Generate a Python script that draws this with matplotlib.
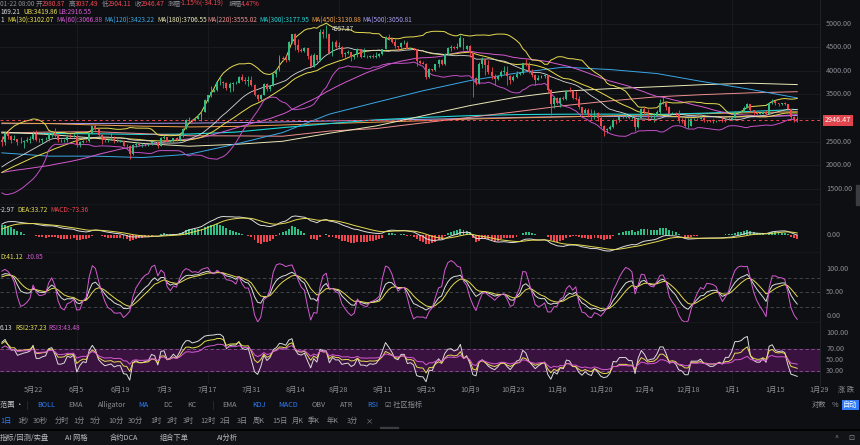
import numpy as np
import pandas as pd
import matplotlib
matplotlib.use("Agg")
import matplotlib.pyplot as plt
from matplotlib.transforms import blended_transform_factory as btf
from matplotlib.patches import Rectangle

plt.rcParams['font.family'] = ['Noto Sans CJK SC', 'DejaVu Sans']

# ---------------- data ----------------
# closes before the visible window (2025-03-13 .. 2025-05-11), used only for indicator warm-up
pre_close = [1860, 1910, 1940, 1890, 1930, 1930, 2060, 1980, 1970, 1980, 2010, 2080, 2060, 2010, 2000, 1900, 1830, 1820, 1820,
             1900, 1800, 1810, 1810, 1790, 1580, 1550, 1470, 1670, 1520, 1570, 1640, 1590, 1620, 1590, 1580, 1580, 1590, 1610, 1590,
             1580, 1750, 1800, 1770, 1790, 1820, 1790, 1800, 1800, 1790,
             1840, 1840, 1830, 1810, 1820, 1820, 1810, 2200, 2340, 2580, 2510]

# daily closes 2025-05-12 .. 2026-01-22
close = [
    2490, 2680, 2610, 2540, 2550, 2480, 2500, 2520, 2530, 2550, 2660, 2530, 2530, 2550, 2560, 2660, 2680, 2630, 2530, 2530,
    2540, 2600, 2590, 2610, 2420, 2480, 2520, 2510, 2680, 2820, 2770, 2640, 2580, 2530, 2540, 2550, 2510, 2520, 2520, 2410,
    2400, 2230, 2420, 2450, 2420, 2420, 2430, 2440, 2500, 2490,
    2410, 2580, 2590, 2500, 2520, 2570, 2540, 2610, 2770, 2950, 2960, 2940, 2970, 3010, 3130, 3370, 3480, 3550, 3590, 3760,
    3760, 3740, 3630, 3720, 3740, 3740, 3860, 3800, 3790, 3810, 3700,
    3480, 3390, 3490, 3720, 3610, 3680, 3920, 4010, 4260, 4250, 4230, 4600, 4770, 4550, 4440, 4420, 4480, 4310, 4080, 4340,
    4230, 4830, 4780, 4780, 4380, 4600, 4510, 4510, 4360, 4380, 4390,
    4300, 4330, 4450, 4300, 4300, 4280, 4310, 4300, 4310, 4350, 4460, 4720, 4670, 4610, 4520, 4500, 4590, 4590, 4470, 4480,
    4450, 4200, 4160, 4150, 3870, 4030, 4020, 4140, 4220, 4150,
    4350, 4490, 4510, 4480, 4510, 4690, 4460, 4530, 4370, 3840, 3750, 4150, 4240, 4130, 3980, 3890, 3830, 3890, 3980, 3980,
    3880, 3800, 3860, 3930, 3950, 4160, 4120, 3980, 3900, 3810, 3850,
    3880, 3900, 3600, 3290, 3420, 3310, 3430, 3400, 3580, 3560, 3420, 3410, 3230, 3110, 3160, 3060, 3010, 3100, 3000, 2830,
    2750, 2760, 2800, 2960, 2950, 3020, 3020, 3020, 2990, 2990,
    2800, 3000, 3190, 3130, 3020, 3040, 3050, 3130, 3320, 3320, 3240, 3090, 3110, 3080, 2960, 2930, 2830, 2830, 2980, 2980,
    2980, 3000, 2960, 2950, 2930, 2930, 2940, 2950, 2940, 2970, 2970,
    3000, 3120, 3120, 3140, 3220, 3290, 3160, 3110, 3090, 3090, 3120, 3090, 3320, 3360, 3310, 3300, 3310, 3300, 3190, 3010,
    2980.87, 2946.47]

high = [
    2610, 2720, 2720, 2630, 2640, 2560, 2590, 2530, 2590, 2620, 2730, 2740, 2580, 2570, 2600, 2700, 2700, 2790, 2660, 2560,
    2550, 2610, 2660, 2680, 2650, 2520, 2530, 2540, 2700, 2830, 2880, 2790, 2650, 2590, 2560, 2680, 2610, 2550, 2540, 2540,
    2450, 2420, 2440, 2500, 2490, 2470, 2460, 2450, 2520, 2520,
    2500, 2590, 2640, 2600, 2530, 2580, 2590, 2630, 2790, 2980, 3020, 2980, 3010, 3080, 3140, 3390, 3490, 3680, 3610, 3760,
    3860, 3790, 3760, 3760, 3760, 3780, 3880, 3940, 3870, 3880, 3880,
    3720, 3500, 3500, 3740, 3730, 3700, 3930, 4030, 4330, 4320, 4330, 4630, 4780, 4790, 4680, 4480, 4500, 4490, 4360, 4370,
    4340, 4880, 4890, 4957.87, 4790, 4620, 4650, 4600, 4530, 4390, 4440,
    4400, 4360, 4490, 4460, 4480, 4330, 4330, 4350, 4390, 4380, 4470, 4730, 4770, 4690, 4680, 4530, 4600, 4660, 4620, 4490,
    4490, 4460, 4230, 4210, 4170, 4060, 4040, 4150, 4240, 4240,
    4370, 4510, 4540, 4530, 4590, 4760, 4700, 4540, 4540, 4390, 3860, 4180, 4290, 4250, 4220, 4080, 3920, 3900, 4020, 4090,
    4110, 3910, 3900, 3990, 3960, 4170, 4250, 4190, 4030, 3920, 3900,
    3900, 3920, 3910, 3610, 3460, 3450, 3450, 3460, 3590, 3650, 3600, 3570, 3460, 3240, 3210, 3200, 3180, 3170, 3120, 3060,
    2850, 2780, 2850, 2980, 2970, 3040, 3070, 3080, 3030, 3060,
    3000, 3010, 3220, 3240, 3180, 3070, 3100, 3160, 3400, 3440, 3330, 3260, 3120, 3130, 3170, 2990, 3020, 3000, 3000, 2990,
    3000, 3040, 3010, 2960, 2960, 2970, 2950, 2960, 3020, 2980, 3010,
    3010, 3140, 3130, 3160, 3250, 3310, 3290, 3170, 3140, 3100, 3150, 3160, 3330, 3400, 3380, 3320, 3320, 3340, 3300, 3190,
    3050, 3037.49]

low = [
    2410, 2420, 2560, 2470, 2530, 2420, 2460, 2370, 2480, 2470, 2540, 2510, 2500, 2460, 2530, 2510, 2600, 2600, 2500, 2490,
    2490, 2480, 2580, 2590, 2390, 2390, 2470, 2480, 2480, 2660, 2750, 2620, 2440, 2500, 2490, 2530, 2470, 2480, 2490, 2400,
    2350, 2120, 2220, 2390, 2400, 2390, 2400, 2410, 2420, 2460,
    2370, 2400, 2560, 2480, 2490, 2500, 2520, 2520, 2600, 2760, 2920, 2920, 2930, 2970, 2940, 3130, 3330, 3450, 3540, 3580,
    3700, 3630, 3600, 3550, 3560, 3710, 3730, 3780, 3720, 3680, 3680,
    3460, 3360, 3350, 3480, 3560, 3580, 3670, 3860, 4000, 4200, 4190, 4200, 4580, 4440, 4400, 4390, 4400, 4250, 4070, 4070,
    4190, 4210, 4700, 4690, 4360, 4310, 4480, 4470, 4280, 4300, 4360,
    4210, 4250, 4300, 4260, 4280, 4270, 4260, 4270, 4270, 4300, 4330, 4450, 4650, 4580, 4480, 4440, 4450, 4570, 4450, 4460,
    4440, 4090, 4150, 4140, 3830, 3850, 3990, 3990, 4080, 4120,
    4130, 4340, 4420, 4470, 4470, 4500, 4430, 4430, 4280, 3440, 3690, 3720, 4060, 3900, 3940, 3830, 3690, 3810, 3860, 3920,
    3700, 3710, 3780, 3840, 3900, 3930, 4100, 3960, 3870, 3690, 3800,
    3840, 3840, 3540, 3060, 3200, 3300, 3230, 3370, 3380, 3540, 3400, 3380, 3180, 3060, 3110, 3020, 2960, 2980, 2940, 2800,
    2620, 2690, 2750, 2780, 2870, 2910, 3000, 2990, 2980, 2980,
    2720, 2780, 2990, 3090, 2960, 3000, 2920, 3040, 3090, 3300, 3160, 3060, 3080, 3040, 2900, 2900, 2800, 2780, 2820, 2960,
    2950, 2980, 2910, 2920, 2910, 2900, 2920, 2930, 2920, 2920, 2950,
    2960, 2990, 3090, 3110, 3120, 3200, 3140, 3060, 3060, 3080, 3080, 3060, 3080, 3300, 3280, 3250, 3280, 3280, 3180, 2950,
    2920, 2904.11]

# long moving averages, sampled every 15 days (day 0 = 2025-05-12)
ma_days = [0, 15, 30, 45, 60, 75, 90, 105, 120, 135, 150, 165, 180, 195, 210, 225, 240, 255]
ma120 = [2260, 2190, 2190, 2160, 2230, 2445, 2690, 3080, 3330, 3575, 3790, 3950, 4075, 4025, 3940, 3765, 3605, 3423]
ma180 = [2700, 2650, 2570, 2460, 2400, 2440, 2505, 2675, 2830, 3045, 3260, 3440, 3565, 3620, 3660, 3705, 3735, 3706]
ma220 = [2680, 2700, 2708, 2667, 2622, 2619, 2612, 2721, 2774, 2895, 3012, 3132, 3258, 3361, 3447, 3494, 3531, 3555]
ma300 = [2687, 2670, 2664, 2650, 2657, 2700, 2794, 2880, 2958, 3010, 3048, 3070, 3078, 3080, 3073, 3100, 3138, 3178]
ma450 = [2892, 2880, 2850, 2825, 2809, 2820, 2850, 2880, 2910, 2940, 2975, 3000, 3021, 3045, 3066, 3090, 3110, 3131]
ma500 = [2879, 2880, 2882, 2885, 2889, 2900, 2915, 2935, 2950, 2970, 2990, 3010, 3028, 3030, 3025, 3022, 3022, 3051]

date_days = [10, 24, 38, 52, 66, 80, 94, 108, 122, 136, 150, 164, 178, 192, 206, 220, 234, 248, 262]
date_labels = ['5月22', '6月5', '6月19', '7月3', '7月17', '7月31', '8月14', '8月28', '9月11', '9月25', '10月9',
               '10月23', '11月6', '11月20', '12月4', '12月18', '1月1', '1月15', '1月29']
grid_days = [24, 66, 108, 150, 192, 234]
price_ticks = [5000, 4500, 4000, 3500, 3000, 2500, 2000, 1500]
last_price = 2946.47

# ---------------- indicators ----------------
npre = len(pre_close)
full_c = pd.Series(pre_close + close, dtype=float)
full_h = pd.Series(pre_close + high, dtype=float)
full_l = pd.Series(pre_close + low, dtype=float)
ma30 = full_c.rolling(30, min_periods=1).mean()
ma60 = full_c.rolling(60, min_periods=1).mean()
mb = full_c.rolling(20).mean()
sd = full_c.rolling(20).std(ddof=0)
ub = mb + 2 * sd
lb = mb - 2 * sd
ema12 = full_c.ewm(span=12, adjust=False).mean()
ema26 = full_c.ewm(span=26, adjust=False).mean()
dif = ema12 - ema26
dea = dif.ewm(span=9, adjust=False).mean()
hist = 2 * (dif - dea)

hh = full_h.rolling(9, min_periods=1).max()
ll = full_l.rolling(9, min_periods=1).min()
rsv = ((full_c - ll) / (hh - ll).replace(0, np.nan) * 100).fillna(50)
K = [50.0]; D = [50.0]
for v in rsv:
    k = 2 / 3 * K[-1] + v / 3
    d = 2 / 3 * D[-1] + k / 3
    K.append(k); D.append(d)
K = pd.Series(K[1:]); D = pd.Series(D[1:]); J = 3 * K - 2 * D


def rsi(s, n):
    diff = s.diff().fillna(0)
    up = diff.clip(lower=0).ewm(alpha=1 / n, adjust=False).mean()
    dn = diff.abs().ewm(alpha=1 / n, adjust=False).mean()
    return up / dn.replace(0, np.nan) * 100


r1 = rsi(full_c, 6); r2 = rsi(full_c, 12); r3 = rsi(full_c, 24)

n = len(close)
x = np.arange(n)
sl = slice(npre, npre + n)
opens = np.array([pre_close[-1]] + close[:-1], dtype=float)
cl = np.array(close, dtype=float)

# ---------------- figure ----------------
W, H = 860, 445
BG = '#0e0f13'
fig = plt.figure(figsize=(W / 100, H / 100), dpi=100, facecolor=BG)
PX1 = 820
XL = (-0.6, 262.3)


def add_ax(top, bottom):
    ax = fig.add_axes([0, 1 - bottom / H, PX1 / W, (bottom - top) / H])
    ax.set_facecolor(BG)
    ax.set_xlim(*XL)
    for s in ax.spines.values():
        s.set_visible(False)
    ax.set_xticks([]); ax.set_yticks([])
    for gd in grid_days:
        ax.axvline(gd, color='#1b1d22', lw=0.6, zorder=0)
    return ax


GREEN = '#2ebd85'
RED = '#f0464f'
TXT = '#8a8d94'
FS = 5.2
HFS = 4.7

# main panel
axm = add_ax(0, 204)
axm.set_ylim(1176, 5498)
for p in price_ticks:
    axm.axhline(p, color='#1b1d22', lw=0.6, zorder=0)
up = cl >= opens
colors = np.where(up, GREEN, RED)
axm.vlines(x, low, high, colors=colors, lw=0.6, zorder=3)
bot = np.minimum(opens, cl)
hgt = np.maximum(np.abs(cl - opens), 6)
axm.bar(x, hgt, bottom=bot, width=0.62, color=colors, lw=0, zorder=4)

axm.plot(ma_days, ma500, color='#a79cf2', lw=0.7, zorder=2)
axm.plot(ma_days, ma450, color='#f0a04a', lw=0.7, zorder=2)
axm.plot(ma_days, ma300, color='#1fd6d6', lw=0.8, zorder=2)
axm.plot(ma_days, ma220, color='#ef8f8f', lw=0.7, zorder=2)
axm.plot(ma_days, ma180, color='#ece8b8', lw=0.7, zorder=2)
axm.plot(ma_days, ma120, color='#3aa8e6', lw=0.7, zorder=2)
axm.plot(x, ma60[sl], color='#d65ad2', lw=0.7, zorder=2)
axm.plot(x, ma30[sl], color='#e9dc4c', lw=0.7, zorder=2)
axm.plot(x, ub[sl], color='#e6dc52', lw=0.7, zorder=2)
axm.plot(x, mb[sl], color='#d8d8d8', lw=0.6, zorder=2)
axm.plot(x, lb[sl], color='#c350c8', lw=0.7, zorder=2)

axm.axhline(last_price, color=RED, lw=0.7, ls=(0, (3, 3)), zorder=5)
imax = int(np.argmax(high))
axm.annotate('4957.87', xy=(imax, high[imax]), xytext=(4, -2.2), textcoords='offset points',
             color='#d8d8d8', fontsize=4.4, va='center', ha='left', zorder=6)

# right price labels
bm = btf(axm.transAxes, axm.transData)
for p in price_ticks:
    if p == 3000:
        continue
    axm.text(1.0075, p, f'{p:.2f}', transform=bm, color=TXT, fontsize=FS, va='center', ha='left', clip_on=False)
axm.text(1.0055, last_price, f'{last_price:.2f}', transform=bm, color='white', fontsize=FS, va='center', ha='left',
         clip_on=False, bbox=dict(boxstyle='square,pad=0.25', fc='#e0444c', ec='none'), zorder=10)


# header texts (figure pixel coords)
def ftext(px, py, s, color, fs=HFS, **kw):
    fig.text(px / W, 1 - py / H, s, color=color, fontsize=fs, va='center', ha='left', **kw)


ftext(0, 4, '01-22 08:00', TXT)
ftext(36, 4, '开', TXT); ftext(42, 4, '2980.87', RED)
ftext(69, 4, '高', TXT); ftext(75, 4, '3037.49', RED)
ftext(102, 4, '低', TXT); ftext(108, 4, '2904.11', RED)
ftext(135, 4, '收', TXT); ftext(141, 4, '2946.47', RED)
ftext(168, 4, '涨幅', TXT); ftext(180, 4, '-1.15%(-34.19)', RED)
ftext(229, 4, '振幅', TXT); ftext(241, 4, '4.47%', RED)
ftext(0, 12.5, '169.21', '#d8d8d8'); ftext(23, 12.5, 'UB:3419.86', '#e6dc52'); ftext(58, 12.5, 'LB:2916.55', '#d65ad2')
ftext(0, 20.5, '1', '#d8d8d8')
mas = [('MA(30):3102.07', '#e9dc4c', 7), ('MA(60):3066.88', '#d65ad2', 56), ('MA(120):3423.22', '#3aa8e6', 104),
       ('MA(180):3706.55', '#ece8b8', 157), ('MA(220):3555.02', '#ef8f8f', 207), ('MA(300):3177.95', '#1fd6d6', 259),
       ('MA(450):3130.88', '#f0a04a', 311), ('MA(500):3050.81', '#a79cf2', 362)]
for s, c, px in mas:
    ftext(px, 20.5, s, c)

# MACD panel
axd = add_ax(204, 252)
dv = dif[sl].values; dev = dea[sl].values; hv = hist[sl].values
M = max(dv.max(), dev.max(), hv.max()); m = min(dv.min(), dev.min(), hv.min())
scale = 35 / (M - m)
axd.set_ylim(m - 1 / scale, M + 12 / scale)
axd.bar(x, hv, width=0.62, color=np.where(hv >= 0, GREEN, RED), lw=0, zorder=2)
axd.plot(x, dv, color='#dcdcdc', lw=0.7, zorder=3)
axd.plot(x, dev, color='#e6dc52', lw=0.7, zorder=3)
bd = btf(axd.transAxes, axd.transData)
axd.text(1.0075, 0, '0.00', transform=bd, color=TXT, fontsize=FS, va='center', ha='left', clip_on=False)
ftext(0, 210, '-2.97', '#d8d8d8'); ftext(17, 210, 'DEA:33.72', '#e6dc52'); ftext(50, 210, 'MACD:-73.36', RED)

# KDJ panel
axk = add_ax(252, 322)
axk.set_ylim(-12.8, 136.2)
for lv in (80, 50, 20):
    axk.axhline(lv, color='#4a4d55', lw=0.6, ls=(0, (4, 3)), zorder=1)
axk.plot(x, K[sl].values, color='#dcdcdc', lw=0.7, zorder=3)
axk.plot(x, D[sl].values, color='#e6dc52', lw=0.7, zorder=3)
axk.plot(x, J[sl].values, color='#d65ad2', lw=0.7, zorder=3)
bk = btf(axk.transAxes, axk.transData)
for lv in (100, 50, 0):
    axk.text(1.0075, lv, f'{lv:.2f}', transform=bk, color=TXT, fontsize=FS, va='center', ha='left', clip_on=False)
ftext(0, 257, 'D:41.12', '#e6dc52'); ftext(26, 257, 'J:0.85', '#d65ad2')

# RSI panel
axr = add_ax(322, 384)
axr.set_ylim(6.7, 119.5)
axr.axhspan(30, 70, color='#3a1240', zorder=0)
for lv in (70, 30):
    axr.axhline(lv, color='#8a5a95', lw=0.6, ls=(0, (4, 3)), zorder=1)
axr.plot(x, r1[sl].values, color='#dcdcdc', lw=0.7, zorder=3)
axr.plot(x, r2[sl].values, color='#e6dc52', lw=0.7, zorder=3)
axr.plot(x, r3[sl].values, color='#d65ad2', lw=0.7, zorder=3)
br = btf(axr.transAxes, axr.transData)
for lv in (100, 70, 50, 30):
    axr.text(1.0075, lv, f'{lv:.2f}', transform=br, color=TXT, fontsize=FS, va='center', ha='left', clip_on=False)
ftext(0, 328, '6.13', '#d8d8d8'); ftext(15, 328, 'RSI2:37.23', '#e6dc52'); ftext(48, 328, 'RSI3:43.48', '#d65ad2')

# date labels
bx = btf(axr.transData, fig.transFigure)
for d, s in zip(date_days, date_labels):
    axr.text(d, 1 - 390 / H, s, transform=bx, color=TXT, fontsize=FS, va='center', ha='center', clip_on=False)
ftext(838, 390, '涨 跌', TXT, fs=FS)

# separators
fig.add_artist(plt.Line2D([PX1 / W, PX1 / W], [1 - 385 / H, 1], color='#24262c', lw=0.6))
for py in (204, 252, 322):
    fig.add_artist(plt.Line2D([0, PX1 / W], [1 - py / H, 1 - py / H], color='#17191e', lw=0.6))
fig.add_artist(Rectangle((856 / W, 1 - 205 / H), 3 / W, 20 / H, color='#3a3c42', transform=fig.transFigure))

# toolbar
BLUE = '#2f7cf6'
ftext(0, 405, '范围 ·', '#c8c8c8', fs=FS)
fig.add_artist(plt.Line2D([27 / W, 27 / W], [1 - 401 / H, 1 - 409 / H], color='#2a2c33', lw=0.6))
fig.add_artist(plt.Line2D([213 / W, 213 / W], [1 - 401 / H, 1 - 409 / H], color='#2a2c33', lw=0.6))
row1 = [('BOLL', 37, BLUE), ('EMA', 68, TXT), ('Alligator', 98, TXT), ('MA', 138, BLUE), ('DC', 163, TXT),
        ('KC', 187, TXT), ('EMA', 222, TXT), ('KDJ', 252, BLUE), ('MACD', 278, BLUE), ('OBV', 312, TXT),
        ('ATR', 340, TXT), ('RSI', 367, BLUE), ('☑ 社区指标', 385, TXT)]
for s, px, c in row1:
    ftext(px, 405, s, c, fs=FS)
ftext(812, 405, '对数', TXT, fs=FS); ftext(832, 405, '%', TXT, fs=FS)
ftext(843, 405, '自动', '#ffffff', fs=FS, bbox=dict(boxstyle='square,pad=0.15', fc=BLUE, ec='none'))

row2 = [('1日', 0, BLUE), ('1秒', 17, TXT), ('30秒', 33, TXT), ('分时', 55, TXT), ('1分', 73, TXT), ('5分', 90, TXT),
        ('10分', 108, TXT), ('30分', 128, TXT), ('1时', 150, TXT), ('2时', 167, TXT), ('3时', 183, TXT),
        ('12时', 200, TXT), ('2日', 220, TXT), ('3日', 237, TXT), ('周K', 253, TXT), ('15日', 272, TXT),
        ('月K', 292, TXT), ('季K', 308, TXT), ('年K', 327, TXT), ('3分', 347, TXT), ('×', 366, TXT)]
for s, px, c in row2:
    ftext(px, 421, s, c, fs=FS)
fig.add_artist(Rectangle((380 / W, 1 - 429 / H), 18 / W, 2 / H, color='#3a3c42', transform=fig.transFigure))

fig.add_artist(Rectangle((0, 0), 1, 15 / H, color='#121317', transform=fig.transFigure, zorder=0))
fig.add_artist(plt.Line2D([0, 1], [15 / H, 15 / H], color='#000000', lw=1.2))
row3 = [('指标/回测/实盘', 0), ('AI 网格', 65), ('合约DCA', 110), ('组合下单', 160), ('AI分析', 217)]
for s, px in row3:
    ftext(px, 438, s, '#b8bbc2', fs=FS)
ftext(835, 438, '^', TXT, fs=FS); ftext(848, 438, '⊡', TXT, fs=FS)

fig.savefig('out.png', dpi=100, facecolor=BG)
